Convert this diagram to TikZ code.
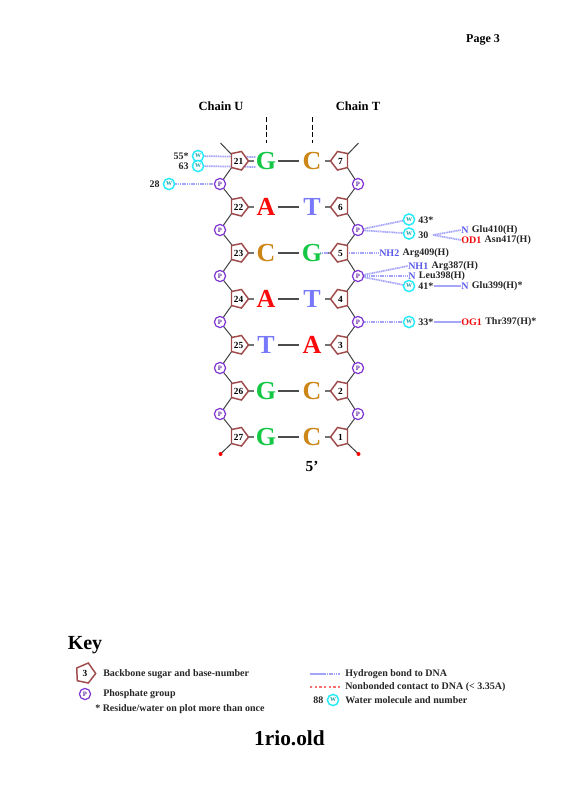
\documentclass[tikz,border=0pt]{standalone}
\usepackage{fontspec}
\setmainfont{Liberation Serif}
\definecolor{sug}{RGB}{160,75,75}
\definecolor{pho}{RGB}{125,50,210}
\definecolor{wat}{RGB}{40,235,250}
\definecolor{hb}{RGB}{165,165,250}
\definecolor{bG}{RGB}{20,200,70}
\definecolor{bC}{RGB}{205,135,25}
\definecolor{bA}{RGB}{250,10,10}
\definecolor{bT}{RGB}{120,120,250}
\definecolor{atN}{RGB}{90,90,235}
\definecolor{atO}{RGB}{240,10,10}
\definecolor{nb}{RGB}{250,110,110}
\tikzset{
 x=0.75pt,y=-0.75pt,
 lab/.style={font=\bfseries\fontsize{7.5}{8}\selectfont,inner sep=0pt,anchor=west,text=black!85},
 labr/.style={lab,anchor=east},
 pgroup/.style={circle,draw=pho,line width=0.9pt,fill=white,minimum size=8.4pt,inner sep=0pt,text=pho!80!black,font=\bfseries\fontsize{5}{5}\selectfont},
 water/.style={circle,draw=wat,line width=1.1pt,fill=white,minimum size=8.4pt,inner sep=0pt,text=wat!65!black,font=\bfseries\fontsize{4.5}{5}\selectfont},
 base/.style={font=\bfseries\fontsize{19.5}{20}\selectfont,inner sep=0pt},
 num/.style={font=\bfseries\fontsize{7}{7}\selectfont,inner sep=0pt},
 hbond/.style={draw=hb,line width=1.1pt},
 hbdot/.style={draw=hb,line width=1.3pt,dash pattern=on 0.9pt off 0.45pt},
 bb/.style={draw=black!75,line width=0.75pt},
 pairline/.style={draw=black!70,line width=1.4pt},
 stub/.style={draw=black!55,line width=1.1pt},
 title/.style={font=\bfseries\fontsize{9.4}{10}\selectfont,inner sep=0pt},
 kt/.style={lab},
}
\newcommand{\sugL}[3]{%
 \draw[sug,line width=1.1pt,fill=white] (#1-7.5,#2-7.5)--(#1+2.5,#2-9.5)--(#1+9.5,#2)--(#1+2.5,#2+9)--(#1-7.5,#2+6.5)--cycle;
 \node[num] at (#1-0.5,#2) {#3};}
\newcommand{\sugR}[3]{%
 \draw[sug,line width=1.1pt,fill=white] (#1+7.5,#2-7.5)--(#1-2.5,#2-9.5)--(#1-9.5,#2)--(#1-2.5,#2+9)--(#1+7.5,#2+6.5)--cycle;
 \node[num] at (#1+0.5,#2) {#3};}
\newcommand{\atm}[5]{\node[lab,text=#5] (#1) at (#2,#3) {#4};}
\begin{document}
\begin{tikzpicture}
\useasboundingbox (0,0) rectangle (584,804);
\fill[white] (0,0) rectangle (584,804);
% headings
\node[title,font=\bfseries\fontsize{9}{10}\selectfont] (pg) at (483,40) {Page 3};
\node[title] (cu) at (221,106) {Chain U};
\node[title] (ct) at (358,106) {Chain T};
\coordinate (d1a) at (266,117); \coordinate (d1b) at (266,143);
\coordinate (d2a) at (312,117); \coordinate (d2b) at (312,143);
\draw[black,line width=0.75pt,dash pattern=on 3.6pt off 2.2pt] (d1a)--(d1b);
\draw[black,line width=0.75pt,dash pattern=on 3.6pt off 2.2pt] (d2a)--(d2b);
% backbone
\coordinate (ltop) at (220.5,143); \coordinate (rtop) at (358.5,143);
\coordinate (lend) at (220.5,454); \coordinate (rend) at (358.5,454);
\draw[bb] (ltop)--(232,155) (rtop)--(347,155);
\foreach \y in {161,207,253,299,345,391}{
 \draw[bb] (232,\y+6)--(220,\y+23)--(232,\y+38);
 \draw[bb] (347,\y+6)--(358,\y+23)--(347,\y+38);
}
\draw[bb] (232,443)--(lend) (347,443)--(rend);
\fill[red] (lend) circle (1.5pt); \fill[red] (rend) circle (1.5pt);
% pair lines
\foreach \y in {161,207,253,299,345,391,437}{
 \draw[stub] (248,\y)--(254,\y) (325,\y)--(332,\y);
 \draw[pairline] (278,\y)--(299,\y);
}
% labels
\node[lab] (n43) at (418,220) {43*};
\node[lab] (n30) at (418,235) {30};
\node[lab] (n41) at (418,286) {41*};
\node[lab] (n33) at (418,322) {33*};
\node[labr] (n55) at (189,156) {55*};
\node[labr] (n63) at (189,166) {63};
\node[labr] (n28) at (160,184) {28};
% atoms
\atm{aN1}{461}{230}{N}{atN}
\node[lab] (rN1) at ([xshift=2.2pt]aN1.east) {Glu410(H)};
\atm{aO1}{461}{240}{OD1}{atO}
\node[lab] (rO1) at ([xshift=2.2pt]aO1.east) {Asn417(H)};
\atm{aNH2}{379}{253}{NH2}{atN}
\node[lab] (rNH2) at ([xshift=2.2pt]aNH2.east) {Arg409(H)};
\atm{aNH1}{408}{266}{NH1}{atN}
\node[lab] (rNH1) at ([xshift=2.2pt]aNH1.east) {Arg387(H)};
\atm{aNL}{408}{276}{N}{atN}
\node[lab] (rNL) at ([xshift=2.2pt]aNL.east) {Leu398(H)};
\atm{aN4}{461}{286}{N}{atN}
\node[lab] (rN4) at ([xshift=2.2pt]aN4.east) {Glu399(H)*};
\atm{aOG}{461}{322}{OG1}{atO}
\node[lab] (rOG) at ([xshift=2.2pt]aOG.east) {Thr397(H)*};
% named anchors for the circles, then bonds, then the circles on top
\foreach \n/\x/\y in {pla/220/184,prb/358/230,prc/358/276,prd/358/322,w55/198/156,w63/198/166,w28/169/184,w43/409/219.5,w30/409/233.5,w41/409/286,w33/409/322}{
 \coordinate (\n) at (\x,\y);
}
\coordinate (g21a) at (256,157); \coordinate (g21b) at (256,167);
\coordinate (w30r) at (433,235); \coordinate (g5) at (320,253);
\draw[hbdot] (w55)--(g21a);
\draw[hbdot] (w63)--(g21b);
\draw[hbdot] (w28)--(pla);
\draw[hbdot] (prb)--(w43);
\draw[hbdot] (prb)--(w30);
\draw[hbdot] (w30r)--(aN1.west);
\draw[hbdot] (w30r)--(aO1.west);
\draw[hbdot] (g5)--(aNH2.west);
\draw[hbdot] (prc)--(aNH1.west);
\draw[hbdot] (prc)--(aNL.west);
\draw[hbdot] (prc)--(w41);
\draw[hbond] (n41.east)--(aN4.west);
\draw[hbdot] (prd)--(w33);
\draw[hbond] (n33.east)--(aOG.west);
% phosphates and waters
\foreach \y/\n in {184/a,230/b,276/c,322/d,368/e,414/f}{
 \node[pgroup] (Pl\n) at (220,\y) {P};
 \node[pgroup] (Pr\n) at (358,\y) {P};
}
\node[water] (W55) at (198,156) {W};
\node[water] (W63) at (198,166) {W};
\node[water] (W28) at (169,184) {W};
\node[water] (W43) at (409,219.5) {W};
\node[water] (W30) at (409,233.5) {W};
\node[water] (W41) at (409,286) {W};
\node[water] (W33) at (409,322) {W};
% sugars
\foreach \y/\a/\b in {161/21/7,207/22/6,253/23/5,299/24/4,345/25/3,391/26/2,437/27/1}{
 \sugL{239}{\y}{\a}
 \sugR{340}{\y}{\b}
}
% bases
\foreach \y/\l/\lc/\r/\rc in {161/G/bG/C/bC,207/A/bA/T/bT,253/C/bC/G/bG,299/A/bA/T/bT,345/T/bT/A/bA,391/G/bG/C/bC,437/G/bG/C/bC}{
 \node[base,text=\lc] at (266,\y) {\l};
 \node[base,text=\rc] at (312,\y) {\r};
}
\node[title,font=\bfseries\fontsize{11.5}{12}\selectfont] (five) at (312,466) {5’};
% key
\node[inner sep=0pt,font=\bfseries\fontsize{15}{16}\selectfont] (key) at (85,645) {Key};
\draw[sug,line width=1.1pt,fill=white] (76.7,668)--(88.3,663)--(95.7,673.5)--(88.3,683)--(77.3,680.7)--cycle;
\node[num] (k3n) at (85,673.5) {3};
\node[kt] (k1) at (103,674.5) {Backbone sugar and base-number};
\node[pgroup] (kp) at (85,694) {P};
\node[kt] (k2) at (103,694) {Phosphate group};
\node[kt] (k3) at (95,709) {* Residue/water on plot more than once};
\coordinate (kl1) at (310,674); \coordinate (klm) at (325,674); \coordinate (kl2) at (340,674);
\coordinate (kl3) at (310,687); \coordinate (kl4) at (340,687);
\draw[hbond] (kl1)--(klm);
\draw[hbdot] (klm)--(kl2);
\draw[nb,line width=0.9pt,dash pattern=on 1.8pt off 1.7pt] (kl3)--(kl4);
\node[kt] (k4) at (345,674.5) {Hydrogen bond to DNA};
\node[kt] (k5) at (345,687.5) {Nonbonded contact to DNA (< 3.35A)};
\node[kt] (k7) at (313,700.5) {88};
\node[water] (kw) at (333,700) {W};
\node[kt] (k6) at (345,700.5) {Water molecule and number};
\node[inner sep=0pt,font=\bfseries\fontsize{16}{17}\selectfont] (ttl) at (289.5,738) {1rio.old};
\end{tikzpicture}
\end{document}
